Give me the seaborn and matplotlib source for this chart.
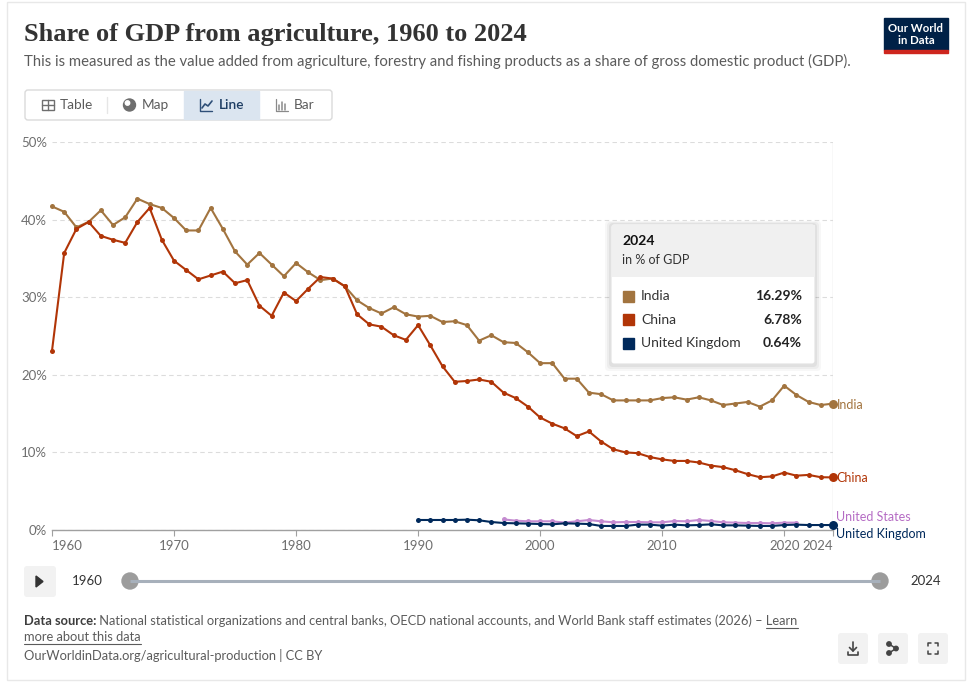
import numpy as np
import pandas as pd
import matplotlib
matplotlib.use("Agg")
import matplotlib.pyplot as plt
import seaborn as sns
from matplotlib.patches import Rectangle, FancyBboxPatch, Circle, Polygon

# Data (% of GDP)
years_india = list(range(1960, 2025))
india = [41.7, 41.0, 39.0, 39.7, 41.2, 39.3, 40.3, 42.7, 42.0, 41.5,
         40.2, 38.6, 38.6, 41.5, 38.8, 35.9, 34.2, 35.7, 34.2, 32.7,
         34.4, 33.2, 32.2, 32.4, 31.4, 29.6, 28.6, 27.9, 28.7, 27.8,
         27.5, 27.6, 26.8, 26.9, 26.4, 24.4, 25.1, 24.2, 24.1, 22.9,
         21.5, 21.5, 19.5, 19.5, 17.7, 17.5, 16.7, 16.7, 16.7, 16.7,
         17.0, 17.1, 16.8, 17.1, 16.7, 16.1, 16.3, 16.5, 15.9, 16.7,
         18.6, 17.4, 16.5, 16.1, 16.29]
years_china = list(range(1960, 2025))
china = [23.1, 35.7, 38.8, 39.7, 37.9, 37.4, 37.0, 39.7, 41.5, 37.4,
         34.7, 33.5, 32.3, 32.8, 33.3, 31.8, 32.2, 28.9, 27.6, 30.6,
         29.5, 31.1, 32.6, 32.4, 31.4, 27.8, 26.5, 26.2, 25.1, 24.5,
         26.4, 23.8, 21.1, 19.1, 19.2, 19.4, 19.1, 17.7, 17.0, 15.9,
         14.5, 13.7, 13.1, 12.1, 12.7, 11.4, 10.4, 10.0, 9.9, 9.4,
         9.1, 8.9, 8.9, 8.7, 8.3, 8.1, 7.7, 7.2, 6.8, 6.9,
         7.4, 7.0, 7.1, 6.8, 6.78]
years_us = list(range(1997, 2022))
us = [1.37, 1.20, 1.12, 1.12, 1.12, 0.95, 1.12, 1.29, 1.12, 0.99,
      1.03, 1.03, 0.99, 0.99, 1.16, 1.12, 1.29, 1.16, 0.99, 0.95,
      0.90, 0.90, 0.86, 0.95, 0.95]
years_uk = list(range(1990, 2025))
uk = [1.29, 1.29, 1.29, 1.29, 1.33, 1.25, 1.03, 0.90, 0.86, 0.82,
      0.77, 0.73, 0.86, 0.82, 0.77, 0.52, 0.52, 0.52, 0.69, 0.69,
      0.56, 0.69, 0.60, 0.64, 0.73, 0.60, 0.60, 0.56, 0.52, 0.52,
      0.64, 0.69, 0.64, 0.64, 0.64]

countries = ["India", "China", "United States", "United Kingdom"]
colors = {"India": "#a2743f", "China": "#b13507",
          "United States": "#c48bd0", "United Kingdom": "#00295b"}
label_colors = {"India": "#a2743f", "China": "#b13507",
                "United States": "#b56cc4", "United Kingdom": "#00295b"}
x_ticks = [1960, 1970, 1980, 1990, 2000, 2010, 2020, 2024]
y_ticks = [0, 10, 20, 30, 40, 50]
tooltip_rows = [("India", "16.29%"), ("China", "6.78%"), ("United Kingdom", "0.64%")]

df = pd.concat([
    pd.DataFrame({"year": years_india, "value": india, "country": "India"}),
    pd.DataFrame({"year": years_china, "value": china, "country": "China"}),
    pd.DataFrame({"year": years_us, "value": us, "country": "United States"}),
    pd.DataFrame({"year": years_uk, "value": uk, "country": "United Kingdom"}),
], ignore_index=True)

W, H = 971, 687
sns.set_theme(style="white")
plt.rcParams["font.family"] = ["Lato", "DejaVu Sans"]

fig = plt.figure(figsize=(W / 100, H / 100), dpi=100)
fig.patch.set_facecolor("white")

# main chart area, placed in pixels
ax = fig.add_axes([52 / W, 1 - 530 / H, (833 - 52) / W, (530 - 142) / H])
ax.axvline(2024, color="#dedede", lw=1, zorder=0)
sns.lineplot(data=df, x="year", y="value", hue="country", hue_order=countries,
             palette=colors, marker="o", markersize=3.6, markeredgewidth=0,
             linewidth=1.5, legend=False, ax=ax, clip_on=False, zorder=3)

last = df[df["year"] == 2024]
for c in ["India", "China", "United Kingdom"]:
    v = last.loc[last["country"] == c, "value"].iloc[0]
    ax.scatter([2024], [v], s=42, color=colors[c], zorder=5, clip_on=False, linewidths=0)

label_pos = {"India": (16.29, -1), "China": (6.78, -0.5), "United States": (0.95, 3.8),
             "United Kingdom": (0.64, -6.3)}
for c, (v, dy) in label_pos.items():
    ax.annotate(c, xy=(2024, v), xytext=(2.5, dy), textcoords="offset points",
                color=label_colors[c], fontsize=9, va="center", ha="left",
                annotation_clip=False)

ax.set_xlim(1960, 2024)
ax.set_ylim(0, 50)
ax.set_xticks(x_ticks)
ax.set_xticklabels([str(t) for t in x_ticks])
ax.set_yticks(y_ticks)
ax.set_yticklabels([f"{t}%" for t in y_ticks])
ax.set_xlabel("")
ax.set_ylabel("")
for s in ["top", "right", "left"]:
    ax.spines[s].set_visible(False)
ax.spines["bottom"].set_color("#a0a0a0")
ax.spines["bottom"].set_linewidth(1)
ax.yaxis.grid(True, color="#dcdcdc", linestyle=(0, (4, 3)), linewidth=0.8)
ax.xaxis.grid(False)
ax.tick_params(axis="x", length=4, width=0.8, color="#a0a0a0", pad=3,
               labelsize=9.5, labelcolor="#6e6e6e", bottom=True)
ax.tick_params(axis="y", length=0, pad=3.5, labelsize=9.5, labelcolor="#6e6e6e")
xl = ax.get_xticklabels()
xl[0].set_ha("left")
xl[-1].set_ha("right")
ax.set_axisbelow(True)

# overlay for the page furniture, in pixel coordinates
ov = fig.add_axes([0, 0, 1, 1], zorder=10)
ov.set_xlim(0, W)
ov.set_ylim(H, 0)
ov.axis("off")
ov.patch.set_alpha(0)

ov.add_patch(Rectangle((7, 2), 958, 678, fill=False, edgecolor="#e8e8e8", lw=1))

ov.text(24, 34, "Share of GDP from agriculture, 1960 to 2024", fontsize=19,
        fontweight="bold", family=["Liberation Serif", "DejaVu Serif"],
        color="#333333", va="center", ha="left")
ov.text(24, 61, "This is measured as the value added from agriculture, forestry and fishing "
        "products as a share of gross domestic product (GDP).",
        fontsize=10.7, color="#5b5b5b", va="center", ha="left")

# logo
ov.add_patch(Rectangle((884, 18), 64, 32, color="#002147"))
ov.add_patch(Rectangle((884, 50), 64, 3, color="#ce261e"))
ov.text(916, 28.5, "Our World", color="white", fontsize=8.2, fontweight="bold",
        ha="center", va="center")
ov.text(916, 40.5, "in Data", color="white", fontsize=8.2, fontweight="bold",
        ha="center", va="center")

# tab bar
ov.add_patch(FancyBboxPatch((25, 90), 307, 30, boxstyle="round,pad=0,rounding_size=3",
                            facecolor="white", edgecolor="#dadada", lw=1))
ov.add_patch(Rectangle((184, 91), 75, 28, color="#dbe5f0"))
ov.plot([107, 107], [97, 113], color="#e6e6e6", lw=1)
# table icon
ov.add_patch(Rectangle((42, 100), 12, 10, fill=False, edgecolor="#6e6e6e", lw=1))
ov.plot([42, 54], [105, 105], color="#6e6e6e", lw=1)
ov.plot([48, 48], [100, 110], color="#6e6e6e", lw=1)
ov.text(60, 105, "Table", fontsize=9.8, color="#5b5b5b", va="center")
# globe icon
ov.add_patch(Circle((129.5, 105), 6, color="#6e6e6e"))
ov.add_patch(Circle((127.5, 103), 2.2, color="white"))
ov.text(142, 105, "Map", fontsize=9.8, color="#5b5b5b", va="center")
# line icon
ov.plot([200, 200, 212], [99, 111, 111], color="#2e4f78", lw=1)
ov.plot([202, 205, 208, 212], [108, 104, 106, 101], color="#2e4f78", lw=1.2)
ov.text(219, 105, "Line", fontsize=9.8, color="#1d3d63", va="center", fontweight="semibold")
# bar icon
ov.plot([276, 276, 288], [99, 111, 111], color="#8a8a8a", lw=0.9)
for bx, bh in [(279, 5), (282, 8), (285, 6)]:
    ov.plot([bx, bx], [110, 110 - bh], color="#8a8a8a", lw=1.1)
ov.text(294, 105, "Bar", fontsize=9.8, color="#5b5b5b", va="center")

# tooltip
for i, a in enumerate([0.05, 0.04, 0.03]):
    ov.add_patch(FancyBboxPatch((611 - 2 - i * 2, 224 - 1 - i), 204 + 4 + i * 4, 140 + 4 + i * 3,
                                boxstyle="round,pad=0,rounding_size=4",
                                facecolor="black", alpha=a, lw=0))
ov.add_patch(FancyBboxPatch((611, 224), 204, 140, boxstyle="round,pad=0,rounding_size=3",
                            facecolor="white", edgecolor="#e2e2e2", lw=0.8))
ov.add_patch(Rectangle((611.5, 224.5), 203, 52, color="#f0f0f0", lw=0))
ov.text(622, 241, "2024", fontsize=10, fontweight="bold", color="#111111", va="center")
ov.text(622, 260, "in % of GDP", fontsize=9, color="#333333", va="center")
for i, (name, val) in enumerate(tooltip_rows):
    yy = 296 + i * 23.5
    ov.add_patch(Rectangle((623, yy - 5.5), 11, 11, color=colors[name]))
    ov.text(641, yy, name, fontsize=10, color="#333333", va="center")
    ov.text(802, yy, val, fontsize=10, color="#222222", va="center", ha="right",
            fontweight="bold")

# timeline
ov.add_patch(FancyBboxPatch((24, 566), 32, 31, boxstyle="round,pad=0,rounding_size=3",
                            facecolor="#f2f2f2", lw=0))
ov.add_patch(Polygon([[36, 576], [36, 587], [43, 581.5]], color="#333333"))
ov.text(72, 581, "1960", fontsize=9.5, color="#333333", va="center")
ov.plot([130, 880], [581, 581], color="#a7b0bb", lw=2.2, solid_capstyle="butt")
for hx in [130, 880]:
    ov.add_patch(Circle((hx, 581), 8, color="#9c9c9c"))
ov.text(910, 581, "2024", fontsize=9.5, color="#333333", va="center")

# footer
t1 = ov.text(24, 621, "Data source:", fontsize=9.3, fontweight="bold", color="#3d3d3d",
             va="center")
t2 = ov.annotate(" National statistical organizations and central banks, OECD national "
                 "accounts, and World Bank staff estimates (2026) \u2013 Learn",
                 xy=(1, 0.5), xycoords=t1, va="center", fontsize=9.3, color="#5b5b5b")
t3 = ov.text(24, 637, "more about this data", fontsize=9.3, color="#5b5b5b", va="center")
ov.text(24, 656, "OurWorldinData.org/agricultural-production | CC BY", fontsize=9.3,
        color="#5b5b5b", va="center")

# buttons
for bx in [838, 878, 918]:
    ov.add_patch(FancyBboxPatch((bx, 633), 30, 31, boxstyle="round,pad=0,rounding_size=3",
                                facecolor="#f2f2f2", lw=0))
ov.plot([853, 853], [642, 651], color="#444444", lw=1.2)
ov.plot([849.5, 853, 856.5], [647.5, 651, 647.5], color="#444444", lw=1.2)
ov.plot([848, 848, 858, 858], [652, 655, 655, 652], color="#444444", lw=1.2)
ov.plot([889, 896, 889], [644, 648.5, 653], color="#444444", lw=1.1)
for px_, py_ in [(889, 644), (896, 648.5), (889, 653)]:
    ov.add_patch(Circle((px_, py_), 2.2, color="#444444"))
for cx, cy, dx, dy in [(928, 643, 1, 1), (938, 643, -1, 1), (928, 654, 1, -1), (938, 654, -1, -1)]:
    ov.plot([cx, cx, cx + 3 * dx], [cy + 3 * dy, cy, cy], color="#444444", lw=1.1)

# underline the link text
fig.canvas.draw()
r = fig.canvas.get_renderer()
inv = ov.transData.inverted()
bb2 = t2.get_window_extent(r)
x_end = inv.transform((bb2.x1, bb2.y0))[0]
learn_w = 32
ov.plot([x_end - learn_w, x_end], [628, 628], color="#5b5b5b", lw=0.8)
bb3 = t3.get_window_extent(r)
ov.plot([24, inv.transform((bb3.x1, bb3.y0))[0]], [644, 644], color="#5b5b5b", lw=0.8)

fig.savefig("out.png", dpi=100)
